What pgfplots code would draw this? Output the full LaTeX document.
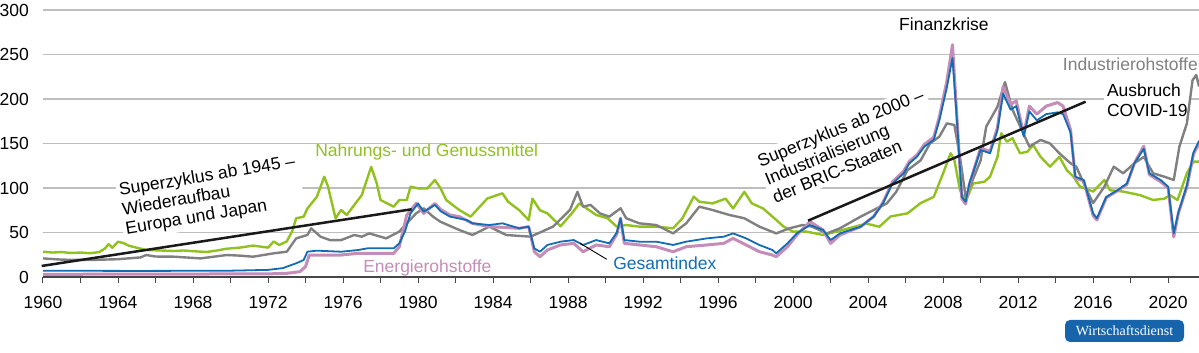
\documentclass[border=0pt]{standalone}
\usepackage{fontspec}
\setmainfont{Liberation Sans}
\newfontfamily\seriffont{Liberation Serif}
\usepackage{pgfplots}
\pgfplotsset{compat=1.18}
\definecolor{cgreen}{RGB}{145,193,30}
\definecolor{cgrey}{RGB}{128,128,128}
\definecolor{cblue}{RGB}{18,108,180}
\definecolor{cpink}{RGB}{196,140,182}
\definecolor{gridc}{RGB}{190,190,190}
\definecolor{axisc}{RGB}{70,70,70}
\definecolor{badge}{RGB}{22,101,172}
\newcommand{\lf}{\fontsize{17.5}{19.5}\selectfont}
\begin{document}
\begin{tikzpicture}
\begin{axis}[
  scale only axis, width=1156pt, height=267pt,
  xmin=1960, xmax=2021.65, ymin=0, ymax=300,
  axis lines*=left,
  y axis line style={draw=none},
  x axis line style={draw=axisc, line width=1.2pt},
  ytick={0,50,...,300},
  ytick style={draw=none},
  xtick={1960,1964,...,2020},
  minor xtick={1962,1966,...,2018},
  xtick style={draw=axisc, line width=1pt},
  tick align=outside,
  major tick length=6pt, minor tick length=6pt,
  ymajorgrids, grid style={draw=gridc, line width=1.2pt},
  /pgf/number format/assume math mode=true,
  xticklabel={\pgfmathprintnumber[1000 sep={}]{\tick}},
  tick label style={font=\lf},
  yticklabel style={anchor=east, inner sep=0pt, xshift=-8pt},
  xticklabel style={anchor=north, inner sep=0pt, yshift=-13pt},
  clip=false,
  every axis plot/.append style={no markers, line join=round},
]
\coordinate (O) at (rel axis cs:0,0);

% annotation labels with white background
\node[rotate=9.5, anchor=north west, align=left, fill=white, inner sep=3pt, font=\lf] at (axis cs:1963.81,108.2) {Superzyklus ab 1945 –\\Wiederaufbau\\Europa und Japan};
\node[rotate=22.4, anchor=north west, align=left, fill=white, inner sep=3pt, font=\lf] at (axis cs:1997.79,138.3) {Superzyklus ab 2000 –\\Industrialisierung\\der BRIC-Staaten};
\node[anchor=north west, align=left, fill=white, inner sep=3pt, font=\lf] at (axis cs:2016.57,220.2) {Ausbruch\\COVID-19};
\node[anchor=base west, inner sep=0pt, font=\lf] at (axis cs:2005.65,276.7) {Finanzkrise};
\node[anchor=base west, inner sep=0pt, font=\lf, text=cgrey] at (axis cs:2014.38,231.5) {Industrierohstoffe};
\node[anchor=base west, inner sep=0pt, font=\lf, text=cgreen] at (axis cs:1974.51,135.2) {Nahrungs- und Genussmittel};
\node[anchor=base west, inner sep=0pt, font=\lf, text=cpink] at (axis cs:1977.07,5.6) {Energierohstoffe};
\node[anchor=base west, inner sep=0pt, font=\lf, text=cblue] at (axis cs:1990.4,8.65) {Gesamtindex};

% Nahrungs- und Genussmittel
\addplot[cgreen, line width=2.4pt] table {
1960.0 28.4
1960.5 27.5
1961.0 28
1961.5 27
1962.0 27.5
1962.5 26.7
1963.0 28
1963.3 32
1963.5 36.9
1963.7 32.9
1964.0 39.7
1964.3 38
1964.6 35
1965.0 32.9
1965.5 30.4
1966.0 30
1967.0 29.2
1967.5 29.8
1968.0 29
1968.7 28.1
1969.2 29.5
1969.8 31.8
1970.5 33
1971.2 35.3
1972.0 33
1972.3 39.9
1972.6 36
1973.0 40
1973.3 52
1973.5 66
1973.9 67.8
1974.1 77
1974.6 90
1975.0 112.7
1975.2 101.5
1975.6 66
1975.9 75.3
1976.2 69.7
1976.6 81
1977.0 92
1977.5 123.8
1977.8 105
1978.0 86.5
1978.7 79
1979.0 86.5
1979.4 86.5
1979.6 101.5
1980.0 99.6
1980.5 99.6
1980.9 109
1981.2 99.6
1981.5 86.5
1982.2 75.3
1982.8 67.8
1983.7 88.3
1984.5 94
1984.8 84.6
1985.4 75
1985.9 64
1986.1 88
1986.5 75
1986.9 71.5
1987.6 57
1988.2 71.5
1988.6 82.7
1989.5 69.7
1990.1 66
1990.6 56.6
1991.1 58.4
1991.8 56.6
1992.7 56.6
1993.6 54.7
1994.1 66
1994.7 90.3
1995.0 84.6
1995.7 82.7
1996.4 88
1996.8 77
1997.4 95.7
1997.8 82.7
1998.4 77
1998.9 67.8
1999.5 56.6
2000.0 51
2000.7 51
2001.6 47.2
2002.5 52
2003.9 60
2004.6 56.5
2005.2 68
2006.1 71.5
2006.8 83
2007.5 90
2008.0 116.5
2008.4 139
2008.6 131.5
2008.9 97.5
2009.2 84.6
2009.6 105
2010.2 107
2010.5 112.7
2010.9 135
2011.1 161.5
2011.4 152
2011.7 156
2012.1 139
2012.5 140.8
2012.8 148.3
2013.2 135
2013.7 124
2014.2 135
2014.6 120
2014.95 112.7
2015.3 101.5
2016.0 96
2016.6 109
2016.9 97.5
2017.6 96
2018.5 92
2019.2 86.5
2019.8 88
2020.1 92
2020.5 86.5
2021.0 116.5
2021.35 129.6
2021.65 129.6
};

% Industrierohstoffe
\addplot[cgrey, line width=2.4pt] table {
1960.0 20.9
1961.0 19.5
1962.5 19.1
1964.0 20
1965.2 22
1965.5 24.7
1966.0 23
1967.0 22.8
1968.4 20.9
1969.8 24.7
1970.5 24
1971.2 22.8
1972.3 26.6
1973.0 28.4
1973.5 43.4
1974.1 47.2
1974.3 54.7
1974.8 45.3
1975.3 41.5
1975.9 41.5
1976.6 47.2
1977.0 45.3
1977.4 49
1978.3 43.4
1979.0 51
1979.4 60.3
1979.9 71.5
1980.3 77.2
1980.8 67.8
1981.2 62
1982.2 52.8
1982.9 47.2
1983.8 56.6
1984.7 47.2
1986.0 45.3
1987.2 56.6
1988.1 75.3
1988.5 95.7
1988.8 79
1989.2 81
1989.7 71.5
1990.2 67.8
1990.8 77.2
1991.1 66
1991.8 60.3
1992.7 58.4
1993.6 49
1994.3 60.3
1995.0 79
1995.7 75.3
1996.6 69.7
1997.4 66
1998.2 56.6
1999.1 49
1999.8 54.7
2000.5 58.4
2001.0 56.6
2001.8 49
2002.5 54.7
2003.6 67.8
2004.3 75.3
2005.0 82.7
2005.5 95.7
2006.1 120
2006.8 131
2007.3 150
2007.8 157.7
2008.2 172.6
2008.6 170.8
2008.9 135
2009.2 90
2009.5 105
2010.0 131
2010.3 169
2010.9 191.4
2011.3 219
2011.7 188
2012.2 165
2012.6 146.5
2013.2 154
2013.7 150
2014.2 139
2014.8 127.7
2015.1 124
2015.7 96
2016.0 83
2016.6 101.5
2017.1 124
2017.6 116.5
2018.2 127.7
2018.7 135
2019.2 116.5
2019.8 112.7
2020.3 109
2020.6 146.5
2021.0 172.6
2021.3 221
2021.5 227
2021.65 214
};

% Energierohstoffe
\addplot[cpink, line width=3pt] table {
1960.0 3.0
1972.0 3.5
1973.0 4.1
1973.7 6
1974.0 11.6
1974.2 24.7
1975.9 24.7
1976.8 26.6
1978.7 26.6
1979.0 34
1979.4 69.7
1979.9 82.7
1980.3 71.5
1980.9 82.7
1981.2 76
1981.7 69.7
1982.2 67.8
1982.9 60.3
1983.8 56.6
1985.4 54.7
1985.9 56.6
1986.2 28.4
1986.5 22.8
1986.9 30.3
1987.6 36
1988.3 37.8
1988.8 28.4
1989.5 36
1990.2 34
1990.6 48
1990.8 66
1991.0 37.8
1991.8 36
1992.7 34
1993.6 28.4
1994.3 34
1995.4 36
1996.3 37.8
1996.8 43.4
1997.5 36
1998.2 28.4
1998.9 24.7
1999.1 22.8
1999.7 34
2000.2 47.2
2000.9 62.2
2001.6 52.8
2002.0 37.8
2002.5 47.2
2003.6 56.5
2004.3 68
2004.8 84
2005.3 107
2005.9 119
2006.2 130
2006.6 137
2007.0 149
2007.5 157
2007.8 180
2008.2 220
2008.5 261
2008.7 192
2009.0 88
2009.2 82
2009.4 104
2010.0 145
2010.5 141
2010.9 168
2011.2 214
2011.6 194
2011.9 198
2012.3 160
2012.6 192
2013.0 183
2013.5 192
2014.1 196
2014.4 192
2014.8 165
2015.05 111
2015.5 108
2016.0 69
2016.2 64
2016.7 89
2017.3 97
2017.8 104
2018.2 128
2018.7 147
2019.0 115
2019.6 107
2020.0 100
2020.3 45
2020.55 72
2021.0 101
2021.35 138
2021.65 150
};

% Gesamtindex
\addplot[cblue, line width=1.8pt] table {
1960.0 7.1
1965.0 6.8
1970.0 7.1
1972.0 8
1972.8 10
1973.0 11.6
1973.5 15.4
1973.9 19.1
1974.1 28.4
1974.6 29.6
1975.9 28.4
1976.8 30.3
1977.3 32.2
1978.7 32.2
1979.0 37.8
1979.3 51
1979.6 71.5
1980.0 82.7
1980.3 73.4
1980.9 81
1981.2 74
1981.7 67.8
1982.6 64
1982.9 60.3
1983.8 58.4
1984.5 60.3
1985.4 54.7
1985.9 56.6
1986.2 32.2
1986.5 28.4
1986.9 36
1987.6 39.7
1988.3 41.5
1988.8 36
1989.5 41.5
1990.2 37.8
1990.6 50
1990.8 66
1991.0 41.5
1991.8 39.7
1992.7 39.7
1993.6 36
1994.3 39.7
1995.4 43.4
1996.3 45.3
1996.8 49
1997.5 43.4
1998.2 36
1998.9 30.3
1999.1 26.6
1999.7 37.8
2000.2 49
2000.9 58.4
2001.6 52.8
2002.0 41.5
2002.5 49
2003.6 56.5
2004.3 68
2004.8 83
2005.3 105
2005.9 116.5
2006.2 127.7
2006.6 135
2007.0 146.5
2007.5 154
2007.8 176
2008.2 213
2008.5 246
2008.7 187.6
2009.0 90
2009.2 84.6
2009.4 105
2010.0 142.7
2010.5 139
2010.9 165
2011.2 206
2011.6 188
2011.9 192
2012.3 158
2012.6 186
2013.0 176
2013.5 183
2014.1 185
2014.4 183
2014.8 162
2015.05 112.7
2015.5 109
2016.0 71.5
2016.2 66
2016.7 90
2017.3 97.5
2017.8 105
2018.2 127.7
2018.7 144
2019.0 116.5
2019.6 109
2020.0 101.5
2020.3 49
2020.55 73
2021.0 103
2021.35 140
2021.65 153
};

% trend lines and leader
\addplot[black!90, line width=2.5pt] coordinates {(1959.93,12.4) (1979.66,76.1)};
\addplot[black!90, line width=2.5pt] coordinates {(2000.8,63.3) (2015.6,197)};
\addplot[black, line width=0.9pt] coordinates {(1988.64,37.9) (1990.06,19.9)};
\end{axis}
\node[fill=badge, rounded corners=5pt, minimum width=119pt, minimum height=22pt, inner sep=0pt, text=white, font=\seriffont\fontsize{14}{16}\selectfont] at ([shift={(1081.5pt,-54pt)}]O) {Wirtschaftsdienst};
\pgfresetboundingbox
\path[use as bounding box] ([shift={(-43pt,-76pt)}]O) rectangle ++(1199pt,353pt);
\end{tikzpicture}
\end{document}
